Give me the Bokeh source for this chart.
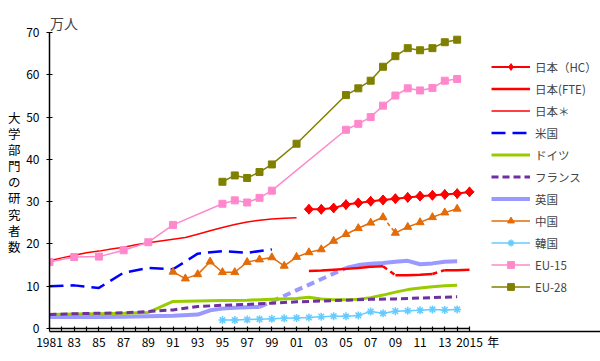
import math
from bokeh.plotting import figure
from bokeh.models import (FixedTicker, Legend, LegendItem, Label, LinearAxis)
from bokeh.embed import file_html
from bokeh.resources import INLINE

# ---------------- data (万人) ----------------
jp_hc_years = list(range(2002, 2016))
jp_hc = [28.2, 28.2, 28.5, 29.3, 29.7, 30.1, 30.4, 30.7, 31.0, 31.3, 31.5, 31.7, 31.9, 32.3]

jp_fte_years_a = list(range(2002, 2009))
jp_fte_a = [13.6, 13.7, 13.9, 14.1, 14.3, 14.6, 14.7]
jp_fte_years_b = list(range(2009, 2013))
jp_fte_b = [12.6, 12.6, 12.7, 12.9]
jp_fte_years_c = list(range(2013, 2016))
jp_fte_c = [13.8, 13.8, 13.9]

jp_old_years = list(range(1981, 2002))
jp_old = [16.0, 16.7, 17.3, 17.9, 18.3, 18.8, 19.2, 19.8, 20.3, 20.7, 21.1,
          21.5, 22.3, 23.1, 23.9, 24.6, 25.2, 25.6, 25.9, 26.1, 26.2]

us_years = [1981, 1983, 1985, 1987, 1989, 1991, 1993, 1995, 1997, 1999]
us = [10.0, 10.2, 9.6, 13.2, 14.3, 14.0, 17.7, 18.3, 17.9, 18.7]

de_years = [1981, 1983, 1985, 1987, 1989, 1991, 1993, 1995, 1997, 1999, 2001,
            2002, 2003, 2004, 2005, 2006, 2007, 2008, 2009, 2010, 2011, 2012, 2013, 2014]
de = [3.3, 3.4, 3.5, 3.6, 3.8, 6.4, 6.5, 6.6, 6.7, 6.9, 7.1,
      7.4, 7.0, 6.8, 6.8, 6.9, 7.3, 7.9, 8.6, 9.2, 9.6, 9.9, 10.1, 10.2]

fr_years = [1981, 1983, 1985, 1987, 1989, 1991, 1993, 1995, 1997, 1999, 2001,
            2003, 2005, 2007, 2009, 2011, 2013, 2014]
fr = [3.3, 3.5, 3.6, 3.7, 4.0, 4.4, 5.2, 5.5, 5.7, 6.0, 6.3,
      6.5, 6.7, 6.9, 7.0, 7.2, 7.4, 7.5]

uk_years_a = [1981, 1983, 1985, 1987, 1989, 1991, 1993, 1994, 1995, 1996, 1997, 1998]
uk_a = [2.7, 2.7, 2.7, 2.8, 2.9, 3.0, 3.3, 4.3, 4.7, 4.9, 5.0, 5.1]
uk_years_b = list(range(2005, 2015))
uk_b = [14.3, 15.0, 15.3, 15.5, 15.8, 16.0, 15.2, 15.4, 15.8, 15.9]

cn_years_a = list(range(1991, 2009))
cn_a = [13.4, 11.8, 12.8, 15.8, 13.3, 13.3, 15.7, 16.3, 16.8, 14.8, 16.9,
        18.0, 18.7, 20.7, 22.3, 23.7, 25.0, 26.3]
cn_years_b = list(range(2009, 2015))
cn_b = [22.6, 24.0, 25.1, 26.3, 27.4, 28.3]

kr_years = list(range(1995, 2015))
kr = [2.0, 2.0, 2.1, 2.2, 2.3, 2.4, 2.5, 2.6, 2.8, 2.9, 2.9, 3.1, 4.0, 3.6,
      4.1, 4.2, 4.3, 4.5, 4.4, 4.5]

eu15_years = [1981, 1983, 1985, 1987, 1989, 1991, 1995, 1996, 1997, 1998, 1999,
              2005, 2006, 2007, 2008, 2009, 2010, 2011, 2012, 2013, 2014]
eu15 = [15.7, 16.9, 17.0, 18.5, 20.4, 24.5, 29.5, 30.3, 29.8, 30.9, 32.6,
        47.0, 48.4, 50.0, 52.7, 55.1, 56.8, 56.3, 56.9, 58.6, 59.0]

eu28_years = [1995, 1996, 1997, 1998, 1999, 2001, 2005, 2006, 2007, 2008, 2009,
              2010, 2011, 2012, 2013, 2014]
eu28 = [34.7, 36.2, 35.6, 37.0, 38.8, 43.7, 55.2, 56.8, 58.6, 61.9, 64.4,
        66.3, 65.8, 66.3, 67.7, 68.3]

labels = ["日本（HC）", "日本(FTE)", "日本＊", "米国", "ドイツ", "フランス",
          "英国", "中国", "韓国", "EU-15", "EU-28"]
y_ticks = [0, 10, 20, 30, 40, 50, 60, 70]
x_ticks = list(range(1981, 2016))
x_label_years = list(range(1981, 2016, 2))
y_title = "大学部門の研究者数"
unit_text = "万人"
year_text = "年"

FONT = "Noto Sans CJK JP"

X0, X1 = 1981, 2015
PX_PER_YEAR = 420 / 34.0
PX_PER_UNIT = 296.0 / 70.0
FRAME_W, FRAME_H = 551, 328

# ---------------- figure ----------------
p = figure(width=600, height=361,
           x_range=(X0, X0 + FRAME_W / PX_PER_YEAR), y_range=(0, FRAME_H / PX_PER_UNIT),
           output_backend="svg", toolbar_location=None,
           min_border_left=49, min_border_right=0, min_border_top=0, min_border_bottom=33)
p.background_fill_color = "white"
p.border_fill_color = "white"
p.outline_line_color = None
p.xgrid.grid_line_color = None
p.ygrid.grid_line_color = None

# main x axis: line + yearly tick marks only (no labels)
p.xaxis.bounds = (X0, X1)
p.xaxis.ticker = FixedTicker(ticks=[], minor_ticks=x_ticks)
p.xaxis.major_tick_in = 0
p.xaxis.major_tick_out = 0
p.xaxis.minor_tick_in = 2
p.xaxis.minor_tick_out = 3
p.xaxis.minor_tick_line_color = "black"
p.xaxis.minor_tick_line_width = 1.2
p.xaxis.major_label_standoff = 0

# second x axis: year labels and 年
def tick_label(y):
    if y in (1981, 2015):
        return str(y)
    return "%02d" % (y % 100)

year_pos = X1 + 23.7 / PX_PER_YEAR
ax2 = LinearAxis(ticker=FixedTicker(ticks=x_label_years + [year_pos]),
                 axis_line_color=None, major_tick_line_color=None, minor_tick_line_color=None,
                 major_tick_in=0, major_tick_out=0, major_label_standoff=1,
                 major_label_text_font=FONT, major_label_text_font_size="12px",
                 major_label_text_color="black")
overrides = {y: tick_label(y) for y in x_label_years}
overrides[year_pos] = year_text
ax2.major_label_overrides = overrides
p.add_layout(ax2, "below")

p.yaxis.bounds = (0, 70)
p.yaxis.ticker = FixedTicker(ticks=y_ticks)
p.yaxis.minor_tick_line_color = None
p.yaxis.major_tick_in = 3
p.yaxis.major_tick_out = 3
p.yaxis.major_label_standoff = 7
p.yaxis.major_label_text_font = FONT
p.yaxis.major_label_text_font_size = "12px"
p.yaxis.major_tick_line_color = "black"
p.yaxis.major_tick_line_width = 1.2
p.yaxis.major_label_text_color = "black"
for ax in (p.xaxis, p.yaxis):
    ax.axis_line_color = "black"
    ax.axis_line_width = 1.5

# second y axis: stacked upright title
title_pos = 34.7
ay2 = LinearAxis(ticker=FixedTicker(ticks=[title_pos]),
                 axis_line_color=None, major_tick_line_color=None, minor_tick_line_color=None,
                 major_tick_in=0, major_tick_out=0, major_label_standoff=3,
                 major_label_text_font=FONT, major_label_text_font_size="12.5px",
                 major_label_text_color="black", major_label_text_line_height=0.85)
ay2.major_label_overrides = {title_pos: "\n".join(y_title)}
p.add_layout(ay2, "left")

RED = "#FF0000"
BLUE = "#0000FF"
GREEN = "#99CC00"
PURPLE = "#7030A0"
LAV = "#9999FF"
ORANGE = "#E36C09"
SKY = "#66CCFF"
PINK = "#FF88CC"
OLIVE = "#808000"

# UK
r_uk = p.line(uk_years_a, uk_a, line_color=LAV, line_width=4)
p.line([uk_years_a[-1], uk_years_b[0]], [uk_a[-1], uk_b[0]], line_color=LAV,
       line_width=4, line_dash="8 5")
p.line(uk_years_b, uk_b, line_color=LAV, line_width=4)

# Germany
r_de = p.line(de_years, de, line_color=GREEN, line_width=3)
# France
r_fr = p.line(fr_years, fr, line_color=PURPLE, line_width=3, line_dash="7 4")

# Korea
r_kr_l = p.line(kr_years, kr, line_color=SKY, line_width=1.5)
r_kr_m = p.scatter(kr_years, kr, marker="asterisk", size=8, line_color=SKY, line_width=1.5)

# US
r_us = p.line(us_years, us, line_color=BLUE, line_width=2.5, line_dash="14 7")

# Japan*
r_jo = p.line(jp_old_years, jp_old, line_color=RED, line_width=1.5)

# Japan FTE
r_jf = p.line(jp_fte_years_a, jp_fte_a, line_color=RED, line_width=2.5)
p.line([jp_fte_years_a[-1], jp_fte_years_b[0]], [jp_fte_a[-1], jp_fte_b[0]],
       line_color=RED, line_width=2.5, line_dash="5 4")
p.line(jp_fte_years_b, jp_fte_b, line_color=RED, line_width=2.5)
p.line([jp_fte_years_b[-1], jp_fte_years_c[0]], [jp_fte_b[-1], jp_fte_c[0]],
       line_color=RED, line_width=2.5, line_dash="5 4")
p.line(jp_fte_years_c, jp_fte_c, line_color=RED, line_width=2.5)

# China
r_cn_l = p.line(cn_years_a, cn_a, line_color=ORANGE, line_width=1.5)
p.line([cn_years_a[-1], cn_years_b[0]], [cn_a[-1], cn_b[0]], line_color=ORANGE,
       line_width=1.5, line_dash="4 3")
p.line(cn_years_b, cn_b, line_color=ORANGE, line_width=1.5)
r_cn_m = p.scatter(cn_years_a + cn_years_b, cn_a + cn_b, marker="triangle", size=8,
                   fill_color=ORANGE, line_color=ORANGE)

# EU-15
r_e15_l = p.line(eu15_years, eu15, line_color=PINK, line_width=1.5)
r_e15_m = p.scatter(eu15_years, eu15, marker="square", size=7, fill_color=PINK, line_color=PINK)

# EU-28
r_e28_l = p.line(eu28_years, eu28, line_color=OLIVE, line_width=1.5)
r_e28_m = p.scatter(eu28_years, eu28, marker="square", size=7, fill_color=OLIVE, line_color=OLIVE)

# Japan HC
r_hc_l = p.line(jp_hc_years, jp_hc, line_color=RED, line_width=2)
r_hc_key = p.scatter(jp_hc_years, jp_hc, marker="diamond", size=10,
                     fill_color=RED, line_color=RED)
p.scatter(jp_hc_years, jp_hc, marker="square", size=6.5, angle=math.pi / 4,
          fill_color=RED, line_color=RED)

items = [
    LegendItem(label=labels[0], renderers=[r_hc_l, r_hc_key]),
    LegendItem(label=labels[1], renderers=[r_jf]),
    LegendItem(label=labels[2], renderers=[r_jo]),
    LegendItem(label=labels[3], renderers=[r_us]),
    LegendItem(label=labels[4], renderers=[r_de]),
    LegendItem(label=labels[5], renderers=[r_fr]),
    LegendItem(label=labels[6], renderers=[r_uk]),
    LegendItem(label=labels[7], renderers=[r_cn_l, r_cn_m]),
    LegendItem(label=labels[8], renderers=[r_kr_l, r_kr_m]),
    LegendItem(label=labels[9], renderers=[r_e15_l, r_e15_m]),
    LegendItem(label=labels[10], renderers=[r_e28_l, r_e28_m]),
]
legend = Legend(items=items, location=(442, 33), padding=4, margin=0, spacing=5,
                glyph_width=39, glyph_height=17, label_height=17, label_standoff=5,
                label_text_font=FONT, label_text_font_size="11.5px",
                border_line_color=None, background_fill_alpha=0)
p.add_layout(legend, "center")

# unit text above the y axis
p.add_layout(Label(x=X0 + 14.5 / PX_PER_YEAR, y=72.3, text=unit_text, text_font=FONT,
                   text_font_size="14px", text_align="center", text_baseline="middle"))

open("out.html", "w").write(file_html(p, INLINE))
